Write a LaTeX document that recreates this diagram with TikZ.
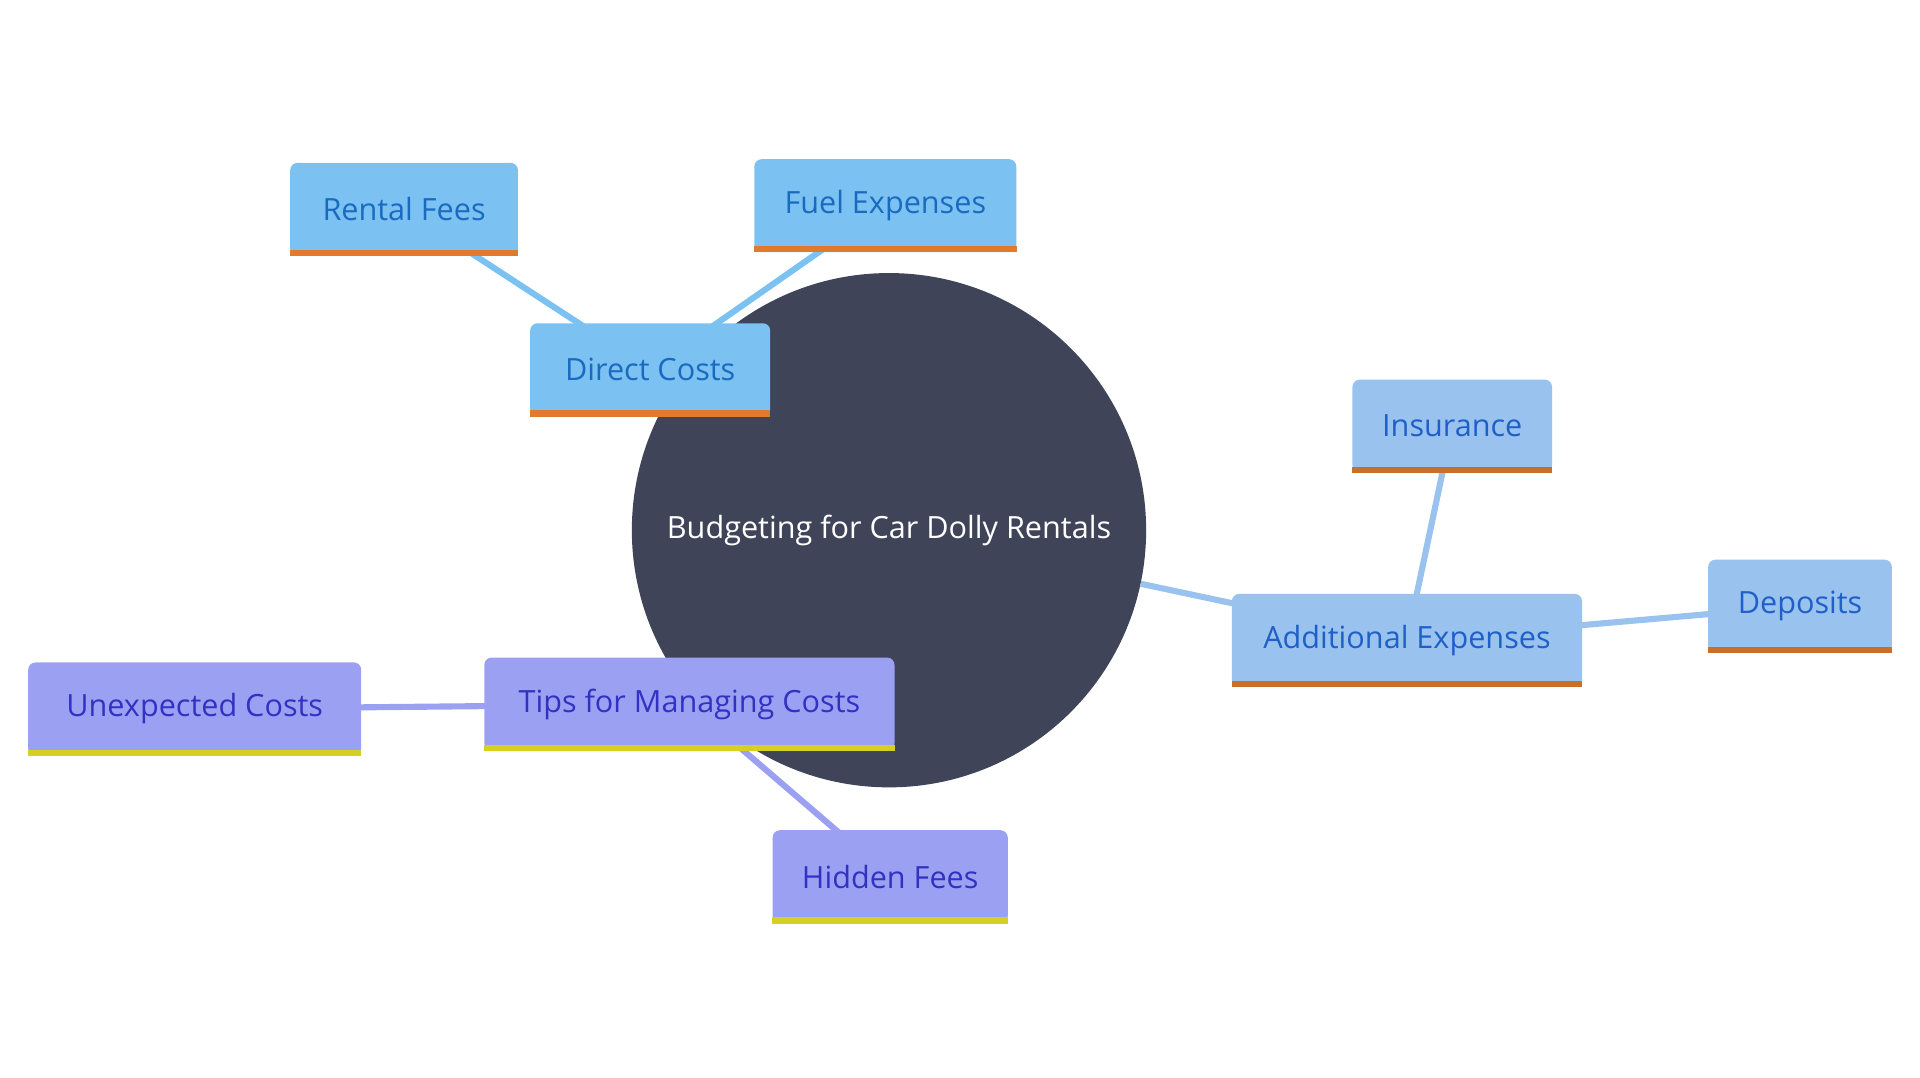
\documentclass[tikz,border=0pt]{standalone}
\usepackage{fontspec}
\setmainfont{Open Sans}
\usetikzlibrary{positioning}
\pgfdeclarelayer{bg}
\pgfdeclarelayer{edges}
\pgfsetlayers{bg,edges,main}
\definecolor{rootc}{HTML}{404459}
\definecolor{bluef}{HTML}{7BC1F2}
\definecolor{bluet}{HTML}{1A6BC0}
\definecolor{addf}{HTML}{9AC2EE}
\definecolor{addt}{HTML}{1F5FC8}
\definecolor{tipf}{HTML}{9CA0F2}
\definecolor{tipt}{HTML}{3232C2}
\definecolor{orangeb}{HTML}{E07B2C}
\definecolor{yellowb}{HTML}{D6D024}
\begin{document}
\begin{tikzpicture}[x=1pt, y=-1pt,
    box/.style={rectangle, rounded corners=6pt, inner sep=0pt, minimum height=76pt, font=\fontsize{25}{30}\selectfont},
    bluebox/.style={box, fill=bluef, text=bluet},
    addbox/.style={box, fill=addf, text=addt},
    tipbox/.style={box, fill=tipf, text=tipt},
    link/.style={line width=5pt}
  ]
  \useasboundingbox (0,0) rectangle (1568,880);
  % root
  \begin{pgfonlayer}{bg}
    \node[circle, fill=rootc, minimum size=420pt, text=white, font=\fontsize{25}{30}\selectfont] (root) at (726,433) {Budgeting for Car Dolly Rentals};
  \end{pgfonlayer}
  % direct costs
  \node[bluebox, minimum width=196pt] (direct) at (531,302) {Direct Costs};
  \node[bluebox, minimum width=186pt] (rental) at (330,171) {Rental Fees};
  \node[bluebox, minimum width=214pt] (fuel) at (723,168) {Fuel Expenses};
  % additional expenses
  \node[addbox, minimum width=286pt] (additional) at (1149,523) {Additional Expenses};
  \node[addbox, minimum width=163pt] (insurance) at (1186,348) {Insurance};
  \node[addbox, minimum width=150pt] (deposits) at (1470,495) {Deposits};
  % tips
  \node[tipbox, minimum width=335pt] (tips) at (563,575) {Tips for Managing Costs};
  \node[tipbox, minimum width=272pt] (unexpected) at (159,579) {Unexpected Costs};
  \node[tipbox, minimum width=192pt] (hidden) at (727,716) {Hidden Fees};
  % bottom bars
  \foreach \n in {direct, rental, fuel}
    \draw[orangeb, line width=5pt] ([yshift=2.5pt]\n.south west) -- ([yshift=2.5pt]\n.south east);
  \foreach \n in {additional, insurance, deposits}
    \draw[orangeb!90!black, line width=5pt] ([yshift=2.5pt]\n.south west) -- ([yshift=2.5pt]\n.south east);
  \foreach \n in {tips, unexpected, hidden}
    \draw[yellowb, line width=5pt] ([yshift=2.5pt]\n.south west) -- ([yshift=2.5pt]\n.south east);
  % connectors
  \begin{pgfonlayer}{edges}
    \draw[link, bluef] (direct.center) -- (rental.center);
    \draw[link, bluef] (direct.center) -- (fuel.center);
    \draw[link, addf] (root) -- (additional.center);
    \draw[link, addf] (additional.center) -- (insurance.center);
    \draw[link, addf] (additional.center) -- (deposits.center);
    \draw[link, tipf] (tips.center) -- (unexpected.center);
    \draw[link, tipf] (tips.center) -- (hidden.center);
  \end{pgfonlayer}
\end{tikzpicture}
\end{document}
